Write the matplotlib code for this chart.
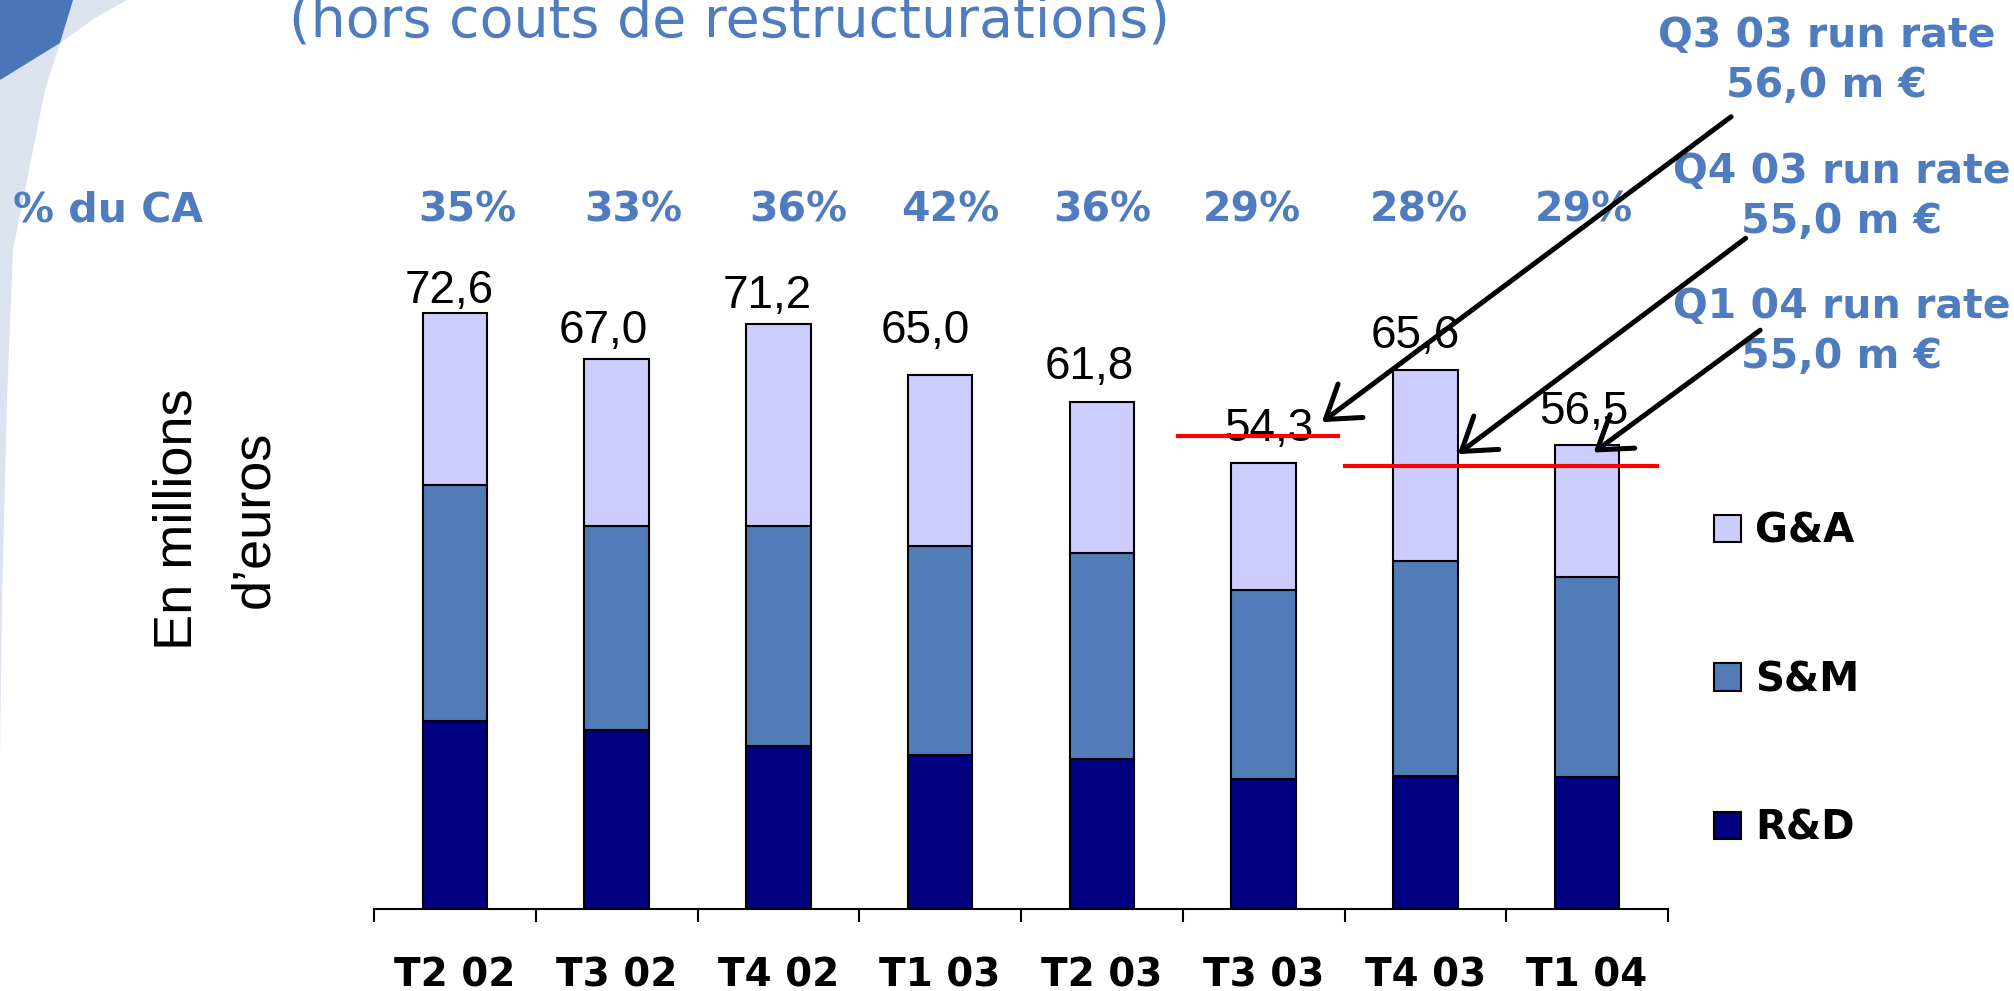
import numpy as np
import matplotlib
matplotlib.use("Agg")
import matplotlib.pyplot as plt
from matplotlib.patches import Polygon
from matplotlib import transforms

# data
quarters = ["T2 02", "T3 02", "T4 02", "T1 03", "T2 03", "T3 03", "T4 03", "T1 04"]
rd = [22.9, 21.8, 19.9, 18.7, 18.3, 15.8, 16.2, 16.1]
sm = [28.7, 24.9, 26.8, 25.5, 25.1, 23.1, 26.2, 24.3]
ga = [21.0, 20.3, 24.5, 20.8, 18.4, 15.4, 23.2, 16.1]
totals = [72.6, 67.0, 71.2, 65.0, 61.8, 54.3, 65.6, 56.5]
pct_ca = ["35%", "33%", "36%", "42%", "36%", "29%", "28%", "29%"]
rr_quarters = ["Q3 03", "Q4 03", "Q1 04"]
rr_values = ["56,0", "55,0", "55,0"]

BLUE = "#4F7BBF"
C_RD, C_SM, C_GA = "#000080", "#527CB8", "#CCCCFF"

# layout (pixels of the 2014x991 slide, or data units on the chart)
W, H = 2014, 991
label_dx = [-0.035, -0.08, -0.07, -0.09, -0.08, 0.03, -0.06, -0.02]
label_dy = [1.2, 2.0, 2.0, 3.9, 2.7, 2.7, 2.7, 2.6]
pct_dx = [0.075, 0.10, 0.12, 0.06, 0.0, -0.07, -0.04, -0.02]
rr_pos = [(1827, 47), (1842, 183), (1842, 318)]
arrows = [((7.89, 96.5), (5.36, 59.3)),
          ((7.98, 81.7), (6.20, 55.4)),
          ((8.07, 70.5), (7.04, 55.6))]
red_lines = [((4.47, 5.46), 57.6), ((5.50, 7.43), 53.9)]

fig = plt.figure(figsize=(W / 100, H / 100), dpi=100)
fig.patch.set_facecolor("white")

# background axes in slide pixels
bg = fig.add_axes([0, 0, 1, 1])
bg.set_xlim(0, W)
bg.set_ylim(H, 0)
bg.axis("off")
bg.add_patch(Polygon([(0, 0), (127, 0), (95, 18), (60, 43), (45, 90), (33, 150),
                      (13, 250), (7, 400), (2, 600), (0, 760)],
                     closed=True, facecolor="#DCE3EF", edgecolor="none"))
bg.add_patch(Polygon([(0, 0), (73, 0), (60, 43), (0, 80)],
                     closed=True, facecolor="#4A75B8", edgecolor="none"))

bg.text(289, 37, "(hors couts de restructurations)", fontsize=40, color=BLUE,
        ha="left", va="baseline")
bg.text(13, 222, "% du CA", fontsize=29.5, fontweight="bold", color=BLUE,
        ha="left", va="baseline")
bg.text(177, 519, "En millions", family="Liberation Sans", fontsize=39,
        rotation=90, ha="center", va="center")
bg.text(254, 519, "d’euros", family="Liberation Sans", fontsize=39,
        rotation=90, ha="center", va="center")

for (px, py), q, v in zip(rr_pos, rr_quarters, rr_values):
    bg.text(px, py, f"{q} run rate", fontsize=29.5, fontweight="bold", color=BLUE,
            ha="center", va="baseline")
    bg.text(px, py + 50, f"{v} m €", fontsize=29.5, fontweight="bold", color=BLUE,
            ha="center", va="baseline")

# chart axes
ax = fig.add_axes([374 / W, 82 / H, 1294 / W, 821 / H])
ax.set_zorder(1)
ax.patch.set_alpha(0)

x = np.arange(len(quarters))
rd_a, sm_a, ga_a = np.array(rd), np.array(sm), np.array(ga)
kw = dict(width=0.4, edgecolor="black", linewidth=1.5)
b_rd = ax.bar(x, rd_a, color=C_RD, label="R&D", **kw)
b_sm = ax.bar(x, sm_a, bottom=rd_a, color=C_SM, label="S&M", **kw)
b_ga = ax.bar(x, ga_a, bottom=rd_a + sm_a, color=C_GA, label="G&A", **kw)

ax.set_xlim(-0.5, len(quarters) - 0.5)
ax.set_ylim(0, 100)
ax.set_yticks([])
for s in ("left", "top", "right"):
    ax.spines[s].set_visible(False)
ax.spines["bottom"].set_linewidth(1.5)

ax.set_xticks(x)
ax.set_xticklabels(quarters, fontsize=28, fontweight="bold")
ax.tick_params(axis="x", which="major", length=0, pad=34)
ax.set_xticks(np.arange(-0.5, len(quarters), 1), minor=True)
ax.tick_params(axis="x", which="minor", length=9.5, width=1.5, direction="out")

for i, t in enumerate(totals):
    ax.text(i + label_dx[i], t + label_dy[i], f"{t:.1f}".replace(".", ","),
            family="Liberation Sans", fontsize=33, ha="center", va="baseline")

pct_tr = transforms.blended_transform_factory(ax.transData, bg.transData)
for i, p in enumerate(pct_ca):
    ax.text(i + pct_dx[i], 222, p, transform=pct_tr, fontsize=29.5,
            fontweight="bold", color=BLUE, ha="center", va="baseline")

for (x0, x1), y in red_lines:
    ax.plot([x0, x1], [y, y], color="red", lw=3, clip_on=False, zorder=4)

for tail, tip in arrows:
    ax.annotate("", xy=tip, xytext=tail, annotation_clip=False,
                arrowprops=dict(arrowstyle="->,head_length=0.75,head_width=0.5",
                                lw=3.6, color="black", mutation_scale=30,
                                shrinkA=0, shrinkB=0), zorder=5)

fig.legend([b_ga, b_sm, b_rd], ["G&A", "S&M", "R&D"], loc="center left",
           bbox_to_anchor=(1714 / W, 1 - 680 / H), frameon=False,
           prop=dict(weight="bold", size=29), handlelength=0.67,
           handleheight=0.67, handletextpad=0.35, labelspacing=2.69,
           borderpad=0, borderaxespad=0)

fig.savefig("out.png", dpi=100)
